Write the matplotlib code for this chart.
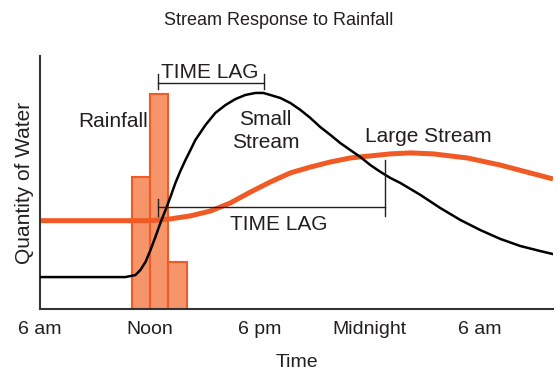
import matplotlib
matplotlib.use("Agg")
import matplotlib.pyplot as plt

plt.rcParams["font.family"] = ["Liberation Sans", "DejaVu Sans"]

# hours after 6 am, quantity of water on a 0-100 scale
rain_hours = [5.5, 6.5, 7.5]
rain_amount = [52.0, 85.0, 18.6]

small_hours = [0.0, 4.66, 5.21, 5.48, 5.76, 6.03, 6.30, 6.57, 6.85, 7.12, 7.39,
               7.66, 7.94, 8.21, 8.48, 9.03, 9.57, 10.12, 10.67, 11.21, 11.76,
               12.19, 12.57, 13.12, 13.67, 14.21, 14.76, 15.30, 15.85, 16.39,
               16.94, 17.48, 18.03, 18.58, 19.12, 19.67, 20.76, 21.85, 22.94,
               24.03, 25.12, 26.21, 27.30, 28.0]
small_flow = [12.6, 12.6, 13.4, 15.4, 18.6, 23.3, 28.5, 34.0, 39.1, 44.3, 49.8,
              54.5, 58.9, 62.8, 66.8, 72.7, 77.5, 80.6, 83.0, 84.6, 85.4,
              85.4, 84.6, 83.4, 81.4, 78.7, 75.5, 71.9, 68.8, 65.6,
              62.8, 60.1, 56.9, 54.2, 51.8, 49.8, 45.1, 39.9, 35.2,
              31.2, 27.7, 24.9, 22.9, 21.7]

large_hours = [0.0, 6.03, 7.12, 8.21, 9.30, 10.39, 11.48, 12.57, 13.67, 14.76,
               15.85, 16.94, 18.03, 19.12, 20.21, 21.47, 23.32, 25.12, 28.0]
large_flow = [34.9, 34.9, 35.6, 36.8, 38.7, 41.9, 46.2, 50.2, 53.8, 56.1,
              58.1, 59.7, 60.5, 61.3, 61.7, 61.3, 59.7, 56.9, 51.4]

tick_hours = [0, 6, 12, 18, 24]
tick_labels = ["6 am", "Noon", "6 pm", "Midnight", "6 am"]

orange = "#f15a24"
bar_fill = "#f6956a"
ink = "#231f20"

fig = plt.figure(figsize=(5.58, 3.70), dpi=100)
ax = fig.add_axes([0.0717, 0.165, 0.9193, 0.6836])

ax.bar(rain_hours, rain_amount, width=1.0, color=bar_fill, edgecolor=orange,
       linewidth=1.5, zorder=1)
ax.plot(large_hours, large_flow, color=orange, linewidth=3.6,
        solid_capstyle="butt", solid_joinstyle="round", zorder=2)
ax.plot(small_hours, small_flow, color="black", linewidth=1.8,
        solid_joinstyle="round", zorder=3)

# time lag brackets
ax.plot([6.46, 12.25], [89.3, 89.3], color=ink, linewidth=1.0, zorder=4)
ax.plot([6.46, 6.46], [86.9, 92.9], color=ink, linewidth=1.0, zorder=4)
ax.plot([12.25, 12.25], [86.9, 92.9], color=ink, linewidth=1.0, zorder=4)
ax.plot([6.46, 18.85], [40.3, 40.3], color=ink, linewidth=1.0, zorder=4)
ax.plot([6.46, 6.46], [36.8, 43.5], color=ink, linewidth=1.0, zorder=4)
ax.plot([18.85, 18.85], [36.8, 58.9], color=ink, linewidth=1.0, zorder=4)

fs = 15
ax.text(9.25, 91.3, "TIME LAG", ha="center", va="baseline", fontsize=fs, color=ink)
ax.text(13.04, 31.2, "TIME LAG", ha="center", va="baseline", fontsize=fs, color=ink)
ax.text(3.98, 71.9, "Rainfall", ha="center", va="baseline", fontsize=fs, color=ink)
ax.text(12.3, 72.7, "Small", ha="center", va="baseline", fontsize=fs, color=ink)
ax.text(12.3, 63.6, "Stream", ha="center", va="baseline", fontsize=fs, color=ink)
ax.text(21.2, 66.0, "Large Stream", ha="center", va="baseline", fontsize=fs, color=ink)

ax.set_xlim(0, 28)
ax.set_ylim(0, 100)
ax.set_xticks(tick_hours)
ax.set_xticklabels(tick_labels, fontsize=14, color=ink)
ax.set_yticks([])
ax.tick_params(axis="x", length=0, pad=9)
for side in ["top", "right"]:
    ax.spines[side].set_visible(False)
for side in ["left", "bottom"]:
    ax.spines[side].set_color("#333333")
    ax.spines[side].set_linewidth(1.5)

ax.set_xlabel("Time", fontsize=14, color=ink, labelpad=11)
ax.set_ylabel("Quantity of Water", fontsize=15, color=ink, labelpad=4)
fig.text(0.5, 0.945, "Stream Response to Rainfall", ha="center", va="center",
         fontsize=13, color=ink)

fig.savefig("out.png", dpi=100)
